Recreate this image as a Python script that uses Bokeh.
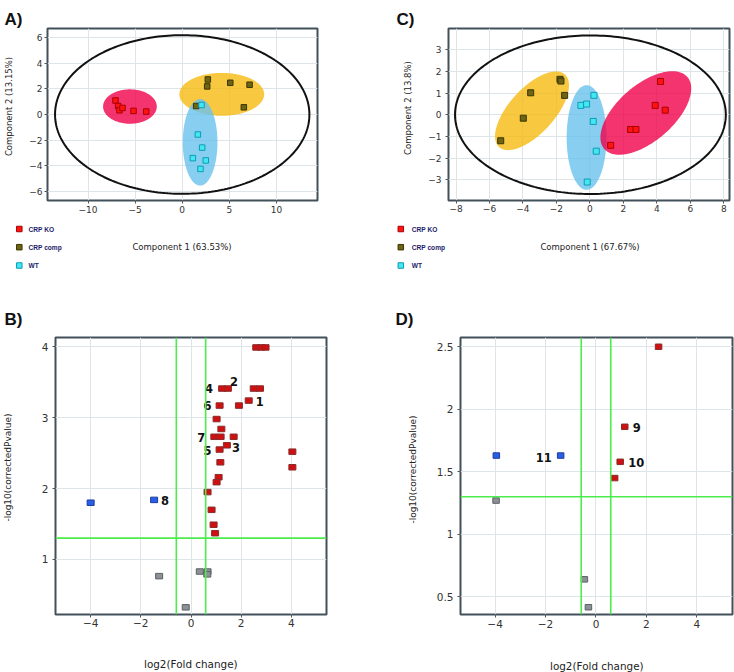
import numpy as np
from bokeh.plotting import figure
from bokeh.layouts import column, row
from bokeh.models import Range1d, FixedTicker, Label, Span, ColumnDataSource, NumeralTickFormatter
from bokeh.embed import file_html
from bokeh.resources import INLINE
from bokeh.core.properties import value

# ---------------- DATA ----------------
# Panel A (PCA scores)
a_ko_x = [-7.08, -6.8, -6.66, -6.34, -5.17, -3.82]
a_ko_y = [1.09, 0.66, 0.33, 0.51, 0.28, 0.23]
a_comp_x = [2.72, 2.65, 5.1, 7.15, 6.54, 1.48]
a_comp_y = [2.73, 2.19, 2.47, 2.32, 0.56, 0.66]
a_wt_x = [2.05, 1.66, 2.12, 1.13, 2.5, 1.94]
a_wt_y = [0.74, -1.56, -2.58, -3.4, -3.58, -4.24]
# ellipses: centre, conjugate semi-axis vectors u and v (data units)
a_ell_name = ["hotelling", "comp", "wt", "ko"]
a_ell_cx = [0.0, 4.2, 1.9, -5.55]
a_ell_cy = [0.0, 1.57, -2.17, 0.62]
a_ell_ux = [13.5, 4.5, 1.84, 2.85]
a_ell_uy = [0.0, 0.0, 0.0, 0.0]
a_ell_vx = [0.0, 0.0, 0.0, 0.0]
a_ell_vy = [6.18, 1.67, 3.37, 1.34]

# Panel C (PCA scores)
c_ko_x = [4.22, 3.9, 4.5, 2.43, 2.75, 1.24]
c_ko_y = [1.53, 0.43, 0.21, -0.68, -0.68, -1.41]
c_comp_x = [-5.33, -3.98, -3.54, -1.79, -1.73, -1.51]
c_comp_y = [-1.2, -0.16, 1.01, 1.63, 1.55, 0.89]
c_wt_x = [0.24, -0.54, -0.2, 0.2, 0.38, -0.16]
c_wt_y = [0.89, 0.43, 0.49, -0.31, -1.68, -3.1]
c_ell_name = ["hotelling", "comp", "wt", "ko"]
c_ell_cx = [0.03, -3.46, -0.2, 3.34]
c_ell_cy = [0.0, 0.18, -1.05, 0.08]
c_ell_ux = [8.09, 1.97, 1.19, 2.48]
c_ell_uy = [0.0, 1.67, 0.0, 1.66]
c_ell_vx = [0.0, -1.0, 0.0, -1.10]
c_ell_vy = [3.65, 0.70, 2.41, 0.97]

# Panel B (volcano)
b_up_x = [2.6, 2.8, 2.97, 1.24, 1.47, 2.5, 2.75, 2.3, 1.14, 1.91, 1.02, 1.21, 0.93,
          1.18, 1.7, 1.43, 1.14, 1.17, 1.1, 1.02, 0.66, 0.82, 0.9, 0.96, 4.04, 4.04]
b_up_y = [3.99, 3.99, 3.99, 3.41, 3.41, 3.41, 3.41, 3.24, 3.17, 3.17, 2.98, 2.84, 2.73,
          2.73, 2.73, 2.61, 2.55, 2.37, 2.16, 2.09, 1.95, 1.70, 1.49, 1.37, 2.52, 2.30]
b_down_x = [-4.0, -1.47]
b_down_y = [1.80, 1.84]
b_ns_x = [-1.27, 0.35, 0.66, 0.65, -0.21]
b_ns_y = [0.765, 0.83, 0.83, 0.79, 0.325]
b_lab_text = ["1", "2", "3", "4", "5", "6", "7", "8"]
b_lab_x = [2.3, 1.47, 1.43, 1.24, 1.14, 1.14, 0.93, -1.47]
b_lab_y = [3.24, 3.41, 2.61, 3.41, 2.55, 3.17, 2.73, 1.84]

# Panel D (volcano)
d_up_x = [2.48, 1.14, 0.96, 0.74]
d_up_y = [2.5, 1.86, 1.58, 1.45]
d_down_x = [-3.95, -1.4]
d_down_y = [1.63, 1.63]
d_ns_x = [-3.96, -0.46, -0.3]
d_ns_y = [1.27, 0.64, 0.417]
d_lab_text = ["9", "10", "11"]
d_lab_x = [1.14, 0.96, -1.4]
d_lab_y = [1.86, 1.58, 1.63]

fc_cut = 0.585      # log2(1.5)
p_cut = 1.301       # -log10(0.05)

legend_names = ["CRP KO", "CRP comp", "WT"]
a_xticks = [-10, -5, 0, 5, 10]
a_yticks = [-6, -4, -2, 0, 2, 4, 6]
c_xticks = [-8, -6, -4, -2, 0, 2, 4, 6, 8]
c_yticks = [-3, -2, -1, 0, 1, 2, 3]
v_xticks = [-4, -2, 0, 2, 4]
b_yticks = [1, 2, 3, 4]
d_yticks = [0.5, 1, 1.5, 2, 2.5]

# ---------------- STYLE ----------------
KO_FILL, KO_LINE = "#ff1212", "#a80000"
COMP_FILL, COMP_LINE = "#6e6412", "#3c3606"
WT_FILL, WT_LINE = "#44e6f2", "#0e9cb6"
ELL_COLORS = {"comp": "#f5ba10", "wt": "#69c2ec", "ko": "#f0014a"}
UP_FILL, UP_LINE = "#cf1010", "#8a2c2c"
DN_FILL, DN_LINE = "#2a5ee8", "#1c3c9c"
NS_FILL, NS_LINE = "#8c9196", "#5c6166"
GREEN = "#4cec4c"
FONT = "DejaVu Sans"
PAGE_W, PAGE_H = 734, 672


def make_panel(w, h, bl, br, bt, bb, xr, yr, xticks, yticks, tick_size, xstand, ystand):
    p = figure(width=w, height=h, x_range=Range1d(*xr), y_range=Range1d(*yr),
               output_backend="svg", toolbar_location=None,
               min_border_left=bl, min_border_right=br,
               min_border_top=bt, min_border_bottom=bb)
    p.outline_line_color = "#43515b"
    p.outline_line_width = 2
    p.background_fill_color = "white"
    p.border_fill_color = "white"
    p.xaxis.ticker = FixedTicker(ticks=xticks)
    p.yaxis.ticker = FixedTicker(ticks=yticks)
    for ax in p.axis:
        ax.axis_line_color = None
        ax.major_tick_in = 0
        ax.major_tick_out = 3
        ax.major_tick_line_color = "#555555"
        ax.minor_tick_line_color = None
        ax.major_label_text_font = FONT
        ax.major_label_text_font_size = tick_size
        ax.major_label_text_color = "#333333"
    p.xaxis.major_label_standoff = xstand
    p.yaxis.major_label_standoff = ystand
    p.grid.grid_line_color = "#dde5e8"
    p.grid.grid_line_width = 1
    return p


def ellipse_xy(cx, cy, ux, uy, vx, vy, n=240):
    t = np.linspace(0, 2 * np.pi, n)
    return cx + ux * np.cos(t) + vx * np.sin(t), cy + uy * np.cos(t) + vy * np.sin(t)


def draw_pca(p, names, cx, cy, ux, uy, vx, vy, groups, size):
    for i, nm in enumerate(names):
        if nm == "hotelling":
            continue
        ex, ey = ellipse_xy(cx[i], cy[i], ux[i], uy[i], vx[i], vy[i])
        p.patch(ex, ey, fill_color=ELL_COLORS[nm], fill_alpha=0.8, line_color=None)
    i = names.index("hotelling")
    ex, ey = ellipse_xy(cx[i], cy[i], ux[i], uy[i], vx[i], vy[i])
    p.line(ex, ey, line_color="#111111", line_width=2)
    for gx, gy, fc, lc in groups:
        p.scatter(gx, gy, marker="square", size=size, fill_color=fc, line_color=lc,
                  line_width=1)


def draw_volcano(p, up, dn, ns, labs, w, h):
    for loc, dim in [(-fc_cut, "height"), (fc_cut, "height"), (p_cut, "width")]:
        p.add_layout(Span(location=loc, dimension=dim, line_color=GREEN, line_width=1.6))
    for (gx, gy), fc, lc in [(ns, NS_FILL, NS_LINE), (dn, DN_FILL, DN_LINE), (up, UP_FILL, UP_LINE)]:
        p.rect(gx, gy, width=w, height=h, width_units="screen", height_units="screen",
               fill_color=fc, line_color=lc, line_width=1)
    txt, lx, ly, dx, dy, al = labs
    src = ColumnDataSource(dict(x=lx, y=ly, t=txt, dx=dx, dy=dy, al=al))
    p.text(x="x", y="y", text="t", x_offset="dx", y_offset="dy", text_align="al",
           text_baseline="middle", text_font=value(FONT), text_font_style="bold",
           text_font_size="11.5px", text_color="#111111", source=src)


# ---------------- PANELS ----------------
pA = make_panel(367, 290, 47, 50, 26, 89, (-14.3, 14.36), (-6.7, 6.7),
                a_xticks, a_yticks, "9px", 2, 2)
pC = make_panel(367, 290, 81, 5, 28, 90, (-8.45, 8.34), (-3.95, 3.97),
                c_xticks, c_yticks, "9px", 1, 4)
pB = make_panel(367, 382, 55, 41, 46, 58, (-5.4, 5.4), (0.224, 4.13),
                v_xticks, b_yticks, "10.5px", 1, 4)
pD = make_panel(367, 382, 93, 2, 47, 57, (-5.37, 5.41), (0.359, 2.574),
                v_xticks, d_yticks, "10.5px", 2, 4)
pD.yaxis.formatter = NumeralTickFormatter(format="0.[0]")

draw_pca(pA, a_ell_name, a_ell_cx, a_ell_cy, a_ell_ux, a_ell_uy, a_ell_vx, a_ell_vy,
         [(a_ko_x, a_ko_y, KO_FILL, KO_LINE), (a_comp_x, a_comp_y, COMP_FILL, COMP_LINE),
          (a_wt_x, a_wt_y, WT_FILL, WT_LINE)], 5.5)
draw_pca(pC, c_ell_name, c_ell_cx, c_ell_cy, c_ell_ux, c_ell_uy, c_ell_vx, c_ell_vy,
         [(c_ko_x, c_ko_y, KO_FILL, KO_LINE), (c_comp_x, c_comp_y, COMP_FILL, COMP_LINE),
          (c_wt_x, c_wt_y, WT_FILL, WT_LINE)], 6)

draw_volcano(pB, (b_up_x, b_up_y), (b_down_x, b_down_y), (b_ns_x, b_ns_y),
             (b_lab_text, b_lab_x, b_lab_y, [7, 2, 5, -9, -8, -8, -9, 7],
              [1, -7, 2, 0, 1, 0, 1, 1],
              ["left", "left", "left", "right", "right", "right", "right", "left"]), 7, 5.5)
draw_volcano(pD, (d_up_x, d_up_y), (d_down_x, d_down_y), (d_ns_x, d_ns_y),
             (d_lab_text, d_lab_x, d_lab_y, [8, 8, -9], [1, 1, 2],
              ["left", "left", "right"]), 6.5, 5.5)

grid = column(row(pA, pC), row(pB, pD),
              styles={"position": "absolute", "left": "0px", "top": "0px"})

# ---------------- TRANSPARENT OVERLAY FOR PAGE TEXTS ----------------
ov = figure(width=PAGE_W, height=PAGE_H, x_range=Range1d(0, PAGE_W),
            y_range=Range1d(PAGE_H, 0), x_axis_type=None, y_axis_type=None,
            output_backend="svg", toolbar_location=None, min_border=0,
            styles={"position": "absolute", "left": "0px", "top": "0px"})
ov.outline_line_color = None
ov.background_fill_alpha = 0
ov.border_fill_alpha = 0
ov.grid.visible = False


def page_text(px, py, text, size, font=FONT, style="normal", color="#222222",
              align="center", baseline="middle", angle=0.0):
    ov.add_layout(Label(x=px, y=py, text=text, text_font=font, text_font_size=size,
                        text_font_style=style, text_color=color, text_align=align,
                        text_baseline=baseline, angle=angle))


# panel letters
for px, py, t in [(4, 19, "A)"), (396, 19, "C)"), (4, 319, "B)"), (395, 319, "D)")]:
    page_text(px, py, t, "17px", font="Liberation Sans", style="bold",
              color="#111111", align="left", baseline="alphabetic")

# axis titles
page_text(181.5, 246, "Component 1 (63.53%)", "8.5px")
page_text(8, 106, "Component 2 (13.15%)", "8.5px", angle=np.pi / 2)
page_text(589.5, 246, "Component 1 (67.67%)", "8.5px")
page_text(407, 107.5, "Component 2 (13.8%)", "8.5px", angle=np.pi / 2)
page_text(190.3, 663, "log2(Fold change)", "10.4px")
page_text(7.5, 467, "-log10(correctedPvalue)", "9px", angle=np.pi / 2)
page_text(596.3, 665, "log2(Fold change)", "10.4px")
page_text(412, 469, "-log10(correctedPvalue)", "9px", angle=np.pi / 2)

# legends under the PCA panels
leg_fill = [KO_FILL, COMP_FILL, WT_FILL]
leg_line = [KO_LINE, COMP_LINE, WT_LINE]
leg_y = [228.5, 246.7, 265]
for mx, tx in [(18.8, 28), (400.3, 411.3)]:
    ov.scatter([mx] * 3, leg_y, marker="square", size=5.5, fill_color=leg_fill,
               line_color=leg_line, line_width=1)
    for nm, ly in zip(legend_names, leg_y):
        page_text(tx, ly, nm, "6.6px", font="Liberation Sans", style="bold",
                  color="#1c1c6a", align="left")

with open("out.html", "w") as f:
    f.write(file_html([grid, ov], INLINE))
